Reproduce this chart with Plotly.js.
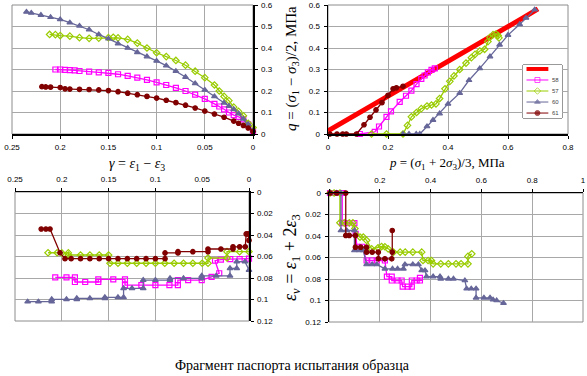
<!DOCTYPE html>
<html>
<head>
<meta charset="utf-8">
<script src="https://cdn.plot.ly/plotly-3.0.1.min.js"></script>
<style>html,body{margin:0;padding:0;background:#fff;}#chart{width:587px;height:376px;}</style>
</head>
<body>
<div id="chart"></div>
<script>
// ---------- Series names / colours ----------
var seriesNames = ['58', '57', '60', '61'];
var seriesColors = ['#FF00FF', '#99CC00', '#666699', '#800000'];
var seriesSymbols = ['square-open', 'diamond-open', 'triangle-up', 'circle'];
var envelopeColor = '#FF0000';

// ---------- Tick labels ----------
var gammaTicks = [0.25, 0.2, 0.15, 0.1, 0.05, 0];
var gammaTickText = ['0.25', '0.2', '0.15', '0.1', '0.05', '0'];
var qTicks = [0, 0.1, 0.2, 0.3, 0.4, 0.5, 0.6];
var qTickText = ['0', '0.1', '0.2', '0.3', '0.4', '0.5', '0.6'];
var pTicksTop = [0, 0.2, 0.4, 0.6, 0.8];
var pTickTextTop = ['0', '0.2', '0.4', '0.6', '0.8'];
var pTicksBottom = [0, 0.2, 0.4, 0.6, 0.8, 1];
var pTickTextBottom = ['0', '0.2', '0.4', '0.6', '0.8', '1'];
var evTicks = [0, 0.02, 0.04, 0.06, 0.08, 0.1, 0.12];
var evTickText = ['0', '0.02', '0.04', '0.06', '0.08', '0.1', '0.12'];

// ---------- Top-left: q vs gamma ----------
var g58_q = [0.205,0.2,0.195,0.19,0.185,0.18,0.17,0.16,0.15,0.14,0.13,0.12,0.11,0.1,0.09,0.08,0.07,0.06,0.05,0.04,0.035,0.03,0.025,0.02,0.015,0.01,0.005,0];
var q58_g = [0.300,0.300,0.298,0.297,0.296,0.293,0.290,0.287,0.284,0.278,0.270,0.262,0.252,0.240,0.228,0.215,0.200,0.183,0.163,0.140,0.128,0.115,0.100,0.088,0.080,0.068,0.045,0.015];
var g57_q = [0.211,0.205,0.2,0.19,0.18,0.17,0.16,0.15,0.145,0.14,0.13,0.12,0.11,0.1,0.09,0.08,0.07,0.06,0.05,0.04,0.035,0.03,0.025,0.02,0.015,0.01,0.005,0];
var q57_g = [0.463,0.462,0.458,0.455,0.448,0.445,0.446,0.448,0.450,0.447,0.440,0.423,0.400,0.378,0.360,0.342,0.320,0.292,0.262,0.228,0.200,0.175,0.155,0.125,0.105,0.085,0.050,0.030];
var g60_q = [0.235,0.23,0.22,0.21,0.2,0.19,0.18,0.17,0.16,0.15,0.14,0.13,0.12,0.11,0.1,0.09,0.08,0.07,0.06,0.05,0.04,0.03,0.025,0.02,0.015,0.01,0.005,0];
var q60_g = [0.568,0.563,0.553,0.543,0.533,0.518,0.503,0.485,0.463,0.443,0.420,0.400,0.380,0.360,0.340,0.318,0.292,0.265,0.235,0.205,0.175,0.145,0.130,0.115,0.095,0.070,0.045,0.015];
var g61_q = [0.219,0.215,0.21,0.2,0.195,0.19,0.18,0.17,0.16,0.15,0.14,0.13,0.12,0.11,0.1,0.09,0.08,0.07,0.06,0.05,0.04,0.03,0.02,0.015,0.01,0.005,0];
var q61_g = [0.220,0.219,0.218,0.216,0.210,0.209,0.208,0.207,0.205,0.202,0.197,0.190,0.183,0.175,0.167,0.157,0.146,0.134,0.121,0.107,0.093,0.078,0.060,0.050,0.040,0.028,0.012];

// ---------- Top-right: q vs p ----------
var pEnv = [0,0.05,0.1,0.15,0.2,0.25,0.3,0.35,0.4,0.45,0.5,0.55,0.6,0.65,0.7];
var qEnv = [0.015,0.055,0.095,0.135,0.177,0.218,0.258,0.298,0.338,0.380,0.420,0.460,0.500,0.540,0.582];
var p58_q = [0.106,0.156,0.17,0.195,0.21,0.239,0.26,0.278,0.295,0.311,0.322,0.333,0.345,0.356];
var q58_p = [0,0.01,0.035,0.08,0.105,0.149,0.178,0.202,0.232,0.256,0.272,0.287,0.298,0.305];
var p57_q = [0.145,0.195,0.25,0.265,0.278,0.295,0.311,0.33,0.345,0.36,0.372,0.39,0.406,0.42,0.439,0.46,0.478,0.49,0.506,0.522,0.533,0.54,0.55,0.56,0.567,0.57];
var q57_p = [0,0,0,0.04,0.08,0.1,0.118,0.13,0.135,0.14,0.165,0.21,0.245,0.27,0.3,0.33,0.355,0.37,0.386,0.394,0.43,0.45,0.462,0.465,0.458,0.447];
var p60_q = [0.25,0.27,0.294,0.306,0.33,0.35,0.372,0.4,0.439,0.47,0.506,0.54,0.572,0.6,0.639,0.66,0.689];
var q60_p = [0,0,0,0,0.035,0.065,0.095,0.14,0.19,0.25,0.305,0.36,0.415,0.46,0.51,0.54,0.578];
var p61_q = [0.006,0.03,0.049,0.061,0.095,0.12,0.14,0.16,0.18,0.2,0.217,0.228,0.25];
var q61_p = [0,0,0,0,0,0.043,0.078,0.112,0.146,0.18,0.21,0.215,0.222];

// ---------- Bottom-left: eps_v vs gamma ----------
var g58_e = [0.207,0.195,0.186,0.186,0.175,0.161,0.161,0.145,0.1325,0.1325,0.115,0.1,0.085,0.076,0.076,0.065,0.0505,0.04,0.0318,0.0363,0.03,0.02,0.01,0];
var e58_g = [0.0794,0.0794,0.0794,0.0837,0.0837,0.0837,0.0812,0.0812,0.0812,0.0867,0.0867,0.0867,0.0867,0.0867,0.0819,0.0819,0.0819,0.0790,0.0756,0.0639,0.0630,0.0625,0.0625,0.0620];
var g57_e = [0.2147,0.205,0.2,0.193,0.193,0.18,0.17,0.16,0.15,0.1485,0.14,0.13,0.12,0.11,0.1,0.09,0.08,0.07,0.06,0.05,0.0438,0.0438,0.0235,0.0235,0.01,0];
var e57_g = [0.0565,0.0565,0.0567,0.0567,0.0586,0.0586,0.0586,0.0586,0.0586,0.0663,0.0663,0.0663,0.0663,0.0663,0.0663,0.0663,0.0663,0.0663,0.0663,0.0663,0.0663,0.0614,0.0614,0.0555,0.0555,0.0555];
var g60_e = [0.2365,0.225,0.2108,0.2108,0.195,0.184,0.184,0.17,0.154,0.154,0.14,0.134,0.134,0.125,0.113,0.113,0.1,0.0844,0.0844,0.07,0.0505,0.0505,0.035,0.0203,0.0203,0.0131,0.0131,0.0043,0];
var e60_g = [0.102,0.102,0.102,0.0998,0.0998,0.0998,0.0989,0.0989,0.0989,0.098,0.098,0.098,0.0896,0.0896,0.0896,0.0819,0.0819,0.0819,0.0803,0.0803,0.0803,0.078,0.078,0.078,0.071,0.071,0.0648,0.0648,0.0726];
var g61_e = [0.222,0.217,0.2126,0.2019,0.1966,0.19,0.18,0.17,0.16,0.15,0.14,0.13,0.12,0.11,0.1,0.0897,0.0897,0.0759,0.0759,0.06,0.0438,0.0438,0.03,0.0171,0.0171,0.01,0.004,0.003,0.001,0];
var e61_g = [0.0344,0.0344,0.0344,0.0565,0.0620,0.0620,0.0620,0.0620,0.0620,0.0620,0.0620,0.0620,0.0620,0.0620,0.0620,0.0620,0.0567,0.0567,0.0555,0.0555,0.0555,0.0530,0.0530,0.0530,0.0510,0.0510,0.0510,0.0390,0.0390,0.0450];

// ---------- Bottom-right: eps_v vs p ----------
var p58_e = [0.004,0.03,0.052,0.052,0.07,0.1,0.105,0.11,0.13,0.148,0.17,0.188,0.22,0.228,0.247,0.247,0.27,0.286,0.29,0.31,0.326,0.326,0.345,0.358,0.358];
var e58_p = [0,0,0,0.028,0.028,0.028,0.038,0.050,0.050,0.0628,0.0628,0.0628,0.0628,0.0777,0.0777,0.0814,0.0814,0.0814,0.087,0.087,0.087,0.0814,0.0814,0.0814,0.079];
var p57_e = [0.004,0.02,0.043,0.043,0.06,0.08,0.094,0.102,0.122,0.135,0.148,0.168,0.193,0.207,0.22,0.233,0.254,0.28,0.3,0.33,0.365,0.37,0.39,0.403,0.41,0.44,0.47,0.5,0.52,0.547,0.547,0.562];
var e57_p = [0,0,0,0.0277,0.0277,0.0277,0.0277,0.033,0.041,0.041,0.044,0.052,0.051,0.0498,0.050,0.052,0.055,0.055,0.055,0.055,0.055,0.0628,0.0628,0.0628,0.0659,0.0659,0.0659,0.0659,0.0659,0.0659,0.059,0.0566];
var p60_e = [0.004,0.03,0.047,0.047,0.07,0.1,0.1,0.12,0.135,0.148,0.17,0.188,0.22,0.25,0.27,0.293,0.299,0.33,0.352,0.365,0.378,0.384,0.41,0.437,0.44,0.47,0.49,0.535,0.542,0.56,0.579,0.579,0.61,0.634,0.646,0.66,0.687];
var e60_p = [0,0,0,0.0349,0.0349,0.0349,0.0535,0.0535,0.0535,0.0665,0.0665,0.0665,0.0705,0.0705,0.0705,0.0705,0.0665,0.0665,0.0665,0.072,0.072,0.0777,0.0777,0.0777,0.0798,0.0798,0.0798,0.0814,0.089,0.089,0.089,0.0975,0.0975,0.0975,0.0993,0.100,0.1025];
var p61_e = [0.004,0.03,0.066,0.066,0.08,0.104,0.104,0.125,0.148,0.148,0.17,0.194,0.194,0.22,0.247,0.249,0.249];
var e61_p = [0,0,0,0.0395,0.0395,0.0395,0.0504,0.0504,0.0504,0.055,0.055,0.055,0.0612,0.0612,0.0612,0.055,0.0349];

// ---------- Build traces ----------
var traces = [];
function envelope(x, y, xa, ya) {
  traces.push({x: x, y: y, xaxis: xa, yaxis: ya, type: 'scatter', mode: 'lines',
    line: {color: envelopeColor, width: 5}, cliponaxis: false, hoverinfo: 'skip'});
}
function series(i, x, y, xa, ya) {
  traces.push({x: x, y: y, xaxis: xa, yaxis: ya, type: 'scatter', mode: 'lines+markers',
    line: {color: seriesColors[i], width: 1.3},
    marker: {symbol: seriesSymbols[i], size: (i === 3 ? 4.5 : 5), color: seriesColors[i], line: {color: seriesColors[i], width: 1.2}},
    cliponaxis: false, name: seriesNames[i]});
}
var panelTL = [[g58_q, q58_g], [g57_q, q57_g], [g60_q, q60_g], [g61_q, q61_g]];
var panelTR = [[p58_q, q58_p], [p57_q, q57_p], [p60_q, q60_p], [p61_q, q61_p]];
var panelBL = [[g58_e, e58_g], [g57_e, e57_g], [g60_e, e60_g], [g61_e, e61_g]];
var panelBR = [[p58_e, e58_p], [p57_e, e57_p], [p60_e, e60_p], [p61_e, e61_p]];

envelope(pEnv, qEnv, 'x2', 'y2');
for (var i = 0; i < 4; i++) {
  series(i, panelTL[i][0], panelTL[i][1], 'x', 'y');
  series(i, panelTR[i][0], panelTR[i][1], 'x2', 'y2');
  series(i, panelBL[i][0], panelBL[i][1], 'x3', 'y3');
  series(i, panelBR[i][0], panelBR[i][1], 'x4', 'y4');
}

// ---------- Custom compact legend (on a hidden helper axis) ----------
var legendNames = [''].concat(seriesNames);
var legendSampleX = [0.09, 0.37, 0.65];
traces.push({x: legendSampleX, y: [0, 0, 0], xaxis: 'x5', yaxis: 'y5', mode: 'lines',
  line: {color: envelopeColor, width: 4}, hoverinfo: 'skip', cliponaxis: false});
for (var k = 0; k < 4; k++) {
  traces.push({x: legendSampleX, y: [k + 1, k + 1, k + 1], xaxis: 'x5', yaxis: 'y5', mode: 'lines+markers',
    line: {color: seriesColors[k], width: 1},
    marker: {symbol: seriesSymbols[k], size: [0, 5, 0], color: seriesColors[k], line: {color: seriesColors[k], width: 1}},
    hoverinfo: 'skip', cliponaxis: false});
}

// ---------- Layout ----------
var W = 587, H = 376;
var GRID = '#a8a8a8';
function px(a, b) { return [a / W, b / W]; }
function py(top, bottom) { return [1 - bottom / H, 1 - top / H]; }
function axis(extra) {
  var base = {showgrid: true, gridcolor: GRID, gridwidth: 1, zeroline: false, showline: true,
    linecolor: '#000', linewidth: 1.5, ticks: 'outside', ticklen: 3, tickcolor: '#000', tickwidth: 1,
    ticklabelstandoff: 2, tickfont: {family: 'Liberation Sans, Arial, sans-serif', size: 8, color: '#000'},
    fixedrange: true};
  for (var key in extra) base[key] = extra[key];
  return base;
}

var layout = {
  width: W, height: H,
  margin: {l: 0, r: 0, t: 0, b: 0},
  paper_bgcolor: '#ffffff', plot_bgcolor: '#ffffff',
  showlegend: false,
  font: {family: 'Liberation Sans, Arial, sans-serif', size: 8, color: '#000'},
  xaxis: axis({domain: px(12, 253), range: [0.25, 0], anchor: 'y', side: 'bottom', tickvals: gammaTicks, ticktext: gammaTickText}),
  yaxis: axis({domain: py(5, 134), range: [0, 0.6], anchor: 'x', side: 'right', tickvals: qTicks, ticktext: qTickText}),
  xaxis2: axis({domain: px(328, 568), range: [0, 0.8], anchor: 'y2', side: 'bottom', tickvals: pTicksTop, ticktext: pTickTextTop}),
  yaxis2: axis({domain: py(5, 134), range: [0, 0.6], anchor: 'x2', side: 'left', tickvals: qTicks, ticktext: qTickText}),
  xaxis3: axis({domain: px(15, 249), range: [0.25, 0], anchor: 'y3', side: 'top', tickvals: gammaTicks, ticktext: gammaTickText}),
  yaxis3: axis({domain: py(192, 321), range: [0.12, 0], anchor: 'x3', side: 'right', tickvals: evTicks, ticktext: evTickText}),
  xaxis4: axis({domain: px(329, 583), range: [0, 1], anchor: 'y4', side: 'top', tickvals: pTicksBottom, ticktext: pTickTextBottom}),
  yaxis4: axis({domain: py(193, 322), range: [0.12, 0], anchor: 'x4', side: 'left', tickvals: evTicks, ticktext: evTickText}),
  xaxis5: {domain: px(523, 562), range: [0, 1], anchor: 'y5', visible: false, fixedrange: true},
  yaxis5: {domain: py(65, 118), range: [4.45, -0.36], anchor: 'x5', visible: false, fixedrange: true},
  shapes: [],
  annotations: []
};

// plot-area frames
[['x', 'y'], ['x2', 'y2'], ['x3', 'y3'], ['x4', 'y4']].forEach(function (s) {
  layout.shapes.push({type: 'rect', xref: s[0] + ' domain', yref: s[1] + ' domain', x0: 0, x1: 1, y0: 0, y1: 1,
    line: {color: '#8c8c8c', width: 1}, layer: 'below'});
});
// legend box
layout.shapes.push({type: 'rect', xref: 'x5 domain', yref: 'y5 domain', x0: 0, x1: 1, y0: 0, y1: 1,
  line: {color: '#333', width: 1}, fillcolor: '#ffffff', layer: 'below'});
for (var m = 1; m < legendNames.length; m++) {
  layout.annotations.push({xref: 'x5', yref: 'y5', x: 0.69, y: m, text: legendNames[m], showarrow: false,
    xanchor: 'left', yanchor: 'middle', font: {family: 'Liberation Sans, Arial, sans-serif', size: 6, color: '#444'}});
}

var serif = 'Liberation Serif, Times New Roman, serif';
layout.annotations.push(
  {xref: 'paper', yref: 'paper', x: 137 / W, y: 1 - 164 / H, showarrow: false, xanchor: 'center', yanchor: 'middle',
   text: '<i>γ</i> = <i>ε</i><sub>1</sub> − <i>ε</i><sub>3</sub>', font: {family: serif, size: 14, color: '#000'}},
  {xref: 'paper', yref: 'paper', x: 447 / W, y: 1 - 163 / H, showarrow: false, xanchor: 'center', yanchor: 'middle',
   text: '<i>p</i> = (<i>σ</i><sub>1</sub> + 2<i>σ</i><sub>3</sub>)/3, МПа', font: {family: serif, size: 13, color: '#000'}},
  {xref: 'paper', yref: 'paper', x: 292 / W, y: 1 - 69 / H, showarrow: false, xanchor: 'center', yanchor: 'middle', textangle: -90,
   text: '<i>q</i> = (<i>σ</i><sub>1</sub> − <i>σ</i><sub>3</sub>)/2, МПа', font: {family: serif, size: 15, color: '#000'}},
  {xref: 'paper', yref: 'paper', x: 291 / W, y: 1 - 258 / H, showarrow: false, xanchor: 'center', yanchor: 'middle', textangle: -90,
   text: '<i>ε</i><sub><i>v</i></sub> = <i>ε</i><sub>1</sub> + 2<i>ε</i><sub>3</sub>', font: {family: serif, size: 18, color: '#000'}},
  {xref: 'paper', yref: 'paper', x: 292 / W, y: 1 - 365 / H, showarrow: false, xanchor: 'center', yanchor: 'middle',
   text: 'Фрагмент паспорта испытания образца', font: {family: serif, size: 14, color: '#000'}}
);

Plotly.newPlot('chart', traces, layout, {staticPlot: true, displayModeBar: false});
</script>
</body>
</html>
